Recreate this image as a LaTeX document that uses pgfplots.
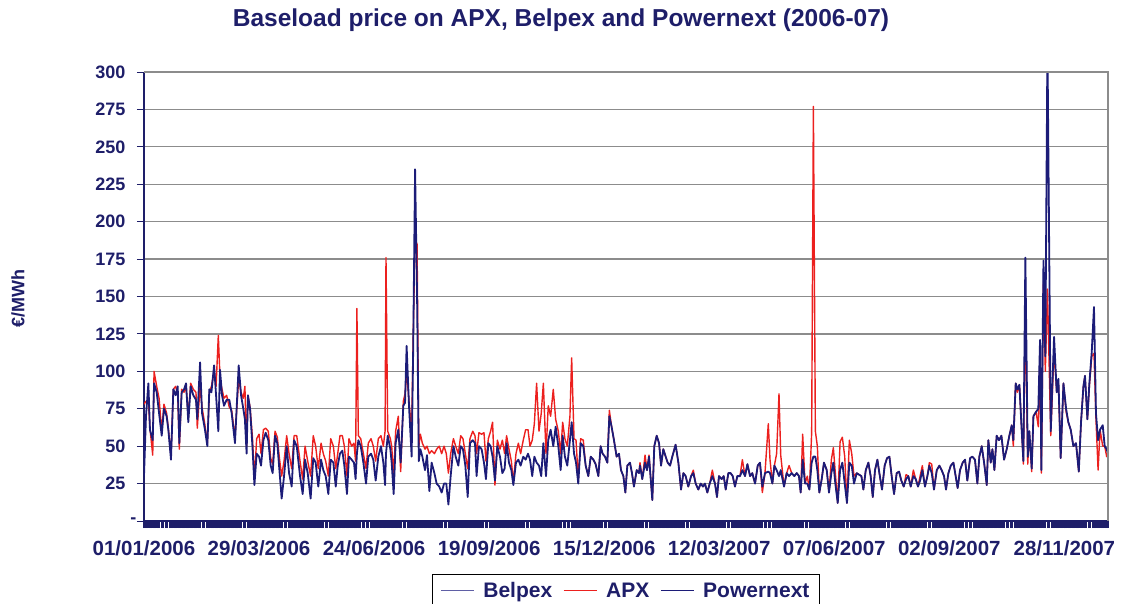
\documentclass[border=0pt]{standalone}
\usepackage{fontspec}
\setmainfont{Liberation Sans}
\usepackage{pgfplots}
\pgfplotsset{compat=1.18}
\usepackage{pgfplotstable}
\definecolor{navytext}{RGB}{30,30,105}
\definecolor{pnline}{RGB}{28,28,120}
\definecolor{apxline}{RGB}{236,32,30}
\definecolor{belline}{RGB}{95,95,165}
\definecolor{gridgray}{RGB}{140,140,140}

\pgfplotstableread{
d pn apx
0 30 78
1.5 70 80
3.3 92 80
4.5 61 62
6.6 54 44
7.6 92 100
9.6 86 90
11.4 72 82
13.4 57 60
15.1 75 78
17.1 70 72
18.4 61 62
20.4 41 44
22.2 88 88
24 84 90
25.5 90 84
26.7 52 48
28.5 86 88
30.3 88 86
31.8 92 90
33.5 66 70
35.3 90 92
37.3 84 88
39.3 81 86
40.3 68 62
42.4 106 90
43.9 72 76
46.1 61 64
47.9 50 52
49.4 88 86
51 86 90
53 104 100
54.5 84 90
56.2 60 124
57.5 101 95
59 84 88
60.5 77 82
62.5 81 84
64.5 81 76
66.3 72 74
68.8 52 56
71.6 104 95
73.4 84 86
75.1 75 82
76.3 68 90
77.6 45 50
78.6 84 84
80.2 75 76
82 50 56
83.5 24 28
85.2 45 55
87 43 58
88.5 37 45
90.3 54 61
92 59 62
94 54 60
95.8 37 42
97.3 32 38
99.1 57 60
100.8 52 56
102.4 34 42
104.1 15 30
105.9 30 40
107.9 50 57
109.7 32 45
111.7 23 35
113.5 54 57
115.5 50 57
118 30 40
120 18 28
121.8 41 50
123.8 32 40
126 15 30
128 42 57
129.8 39 50
131.8 23 35
133.9 41 52
135.6 34 45
137.4 30 40
139.4 18 30
141.2 41 55
143.2 39 50
145 23 35
146.5 37 45
148.2 45 57
150 47 57
151.5 37 50
153.5 18 30
155 43 55
157 41 50
158.8 39 52
160 28 40
161 45 142
162.1 54 57
163.9 50 55
165.9 39 45
167.9 25 35
169.6 43 52
171.7 45 55
173.4 41 50
175.2 27 40
177.2 43 55
179.2 50 57
181 39 50
182.3 24 60
183 45 176
184.3 57 60
186.3 48 55
187.3 39 50
188.8 18 30
190.3 52 60
192.3 61 70
194.1 39 33
196.1 77 80
197.4 79 85
198.6 117 100
200.4 77 80
202.4 43 60
203.5 110 120
205 235 188
206.5 150 185
207.8 40 50
209 48 58
210.5 43 52
212.5 34 48
214 44 50
215.8 20 45
217.5 39 47
219.6 32 45
221.3 25 48
223.3 23 50
225.1 19 45
226.9 25 50
228.6 25 45
230.2 11 32
231.9 30 45
234 50 55
235.7 43 50
237.7 37 45
239.5 50 57
241.2 48 55
243 37 45
244.8 16 35
246.5 52 55
248.6 54 60
250.3 52 57
251.5 30 45
253.3 50 59
255.3 48 58
257.1 39 59
258.6 28 40
260.4 52 55
262.1 50 60
263.6 43 66
265.4 27 24
267.2 50 54
269.2 43 48
271 32 54
272.7 35 45
274.2 52 57
276 39 48
277.8 34 40
279.3 24 26
281.3 39 45
283.1 41 52
284.8 37 45
286.8 43 54
288.6 41 61
290.4 45 61
291.9 41 50
293.6 30 54
295.2 43 65
296.9 39 92
298.7 37 60
300.4 30 72
302 52 92
304 30 45
305.7 54 77
307.5 61 70
309.5 50 88
311.3 63 68
313.3 50 60
315.1 34 45
316.6 57 66
318.3 43 55
320.1 37 50
322.1 54 70
323.4 66 109
325.2 45 55
326.7 39 54
328.4 25 28
330.2 52 55
332.2 50 54
334 37 37
336 30 30
337.8 43 43
339.8 41 41
341.5 38 38
343.6 30 30
345.3 50 50
346.8 45 45
348.6 43 43
350.4 39 39
351.9 70 74
353.6 63 63
355.4 54 54
357.4 43 43
359.2 45 45
360.7 34 34
362.5 30 30
364 19 19
365.5 37 37
367.5 39 39
369 32 32
370.5 23 23
372.6 34 34
374.3 32 32
375.1 37 39
376.8 28 28
378.9 39 44
380.4 34 34
381.9 43 44
383.2 28 28
384.4 14 14
385.9 50 50
387.7 57 57
389.5 52 52
391 37 37
392.7 48 48
394.5 43 43
396 39 39
397.8 37 37
399.5 43 43
402 51 51
404.1 39 39
406.1 21 21
407.9 32 32
409.6 30 30
411.6 23 23
413.7 30 30
415.4 32 34
417.2 25 25
419.2 21 21
421 25 25
422.7 23 23
424.2 25 25
426 19 19
427.8 25 25
429.8 30 34
431.8 25 25
433.3 16 16
434.8 30 30
436.8 28 28
438.4 30 30
439.9 21 21
441.9 32 32
443.6 32 32
445.2 30 30
446.9 23 23
448.7 30 30
450.7 30 30
452.5 34 41
454.5 30 30
456.3 38 38
458.3 30 30
460 32 32
462.1 25 25
464.1 37 37
465.8 39 39
467.6 23 19
469.6 32 32
472.1 33 65
473.4 32 41
475.2 25 25
476.7 37 37
478.4 34 45
480.2 30 85
481.5 34 44
484 23 23
486 32 32
487.8 30 37
489.8 32 32
491.8 30 30
493.6 32 32
495.3 30 30
496.6 19 19
498.1 41 58
499.9 25 25
501.6 25 30
503.2 21 21
504.9 39 59
506.2 43 277
507.7 43 60
509.2 34 50
510.7 19 19
512.5 28 28
514.2 39 39
516.3 34 34
518 19 19
519.8 32 41
521.3 39 49
522.8 25 32
524.6 12 12
526.4 34 53
528.1 39 56
529.9 25 43
531.6 12 12
533.4 39 54
535.2 37 45
536.9 25 30
539 32 32
540.7 31 31
542.5 30 30
544 21 21
545.8 34 34
547.8 39 39
549.5 30 30
551.1 16 16
552.8 34 34
554.6 41 41
556.1 32 32
558.1 21 21
560.1 37 37
561.9 42 42
563.7 43 43
565.4 30 30
567.2 18 18
569.2 32 32
571 33 33
572.7 27 27
574.5 23 23
576.3 28 31
578 30 30
579.8 23 23
581.8 30 34
583.6 28 28
585.3 23 23
586.9 27 30
588.6 34 37
590.6 23 23
592.4 30 30
593.9 37 39
595.7 32 38
597.4 21 21
599.5 34 34
601.5 37 37
603.2 34 34
605 30 30
606.5 21 21
608.3 32 32
610.1 37 37
612.1 39 39
613.8 30 30
615.3 22 22
617.1 34 34
619.1 39 39
620.9 41 41
622.6 27 27
624.7 42 42
626.4 43 43
628.4 41 41
630.2 25 25
631.7 43 43
633.5 50 50
635.3 39 39
637.3 24 24
638.5 54 54
640.3 39 39
641.6 48 48
643.1 34 34
644.8 57 57
646.6 54 54
648.4 57 57
650.4 41 41
652.4 48 48
654.4 57 57
656.2 64 64
657.4 54 50
659.2 92 92
660.5 88 86
662 91 91
663.7 61 61
665 40 38
666.5 176 140
668.3 43 38
669.5 60 60
671.3 35 33
672.6 70 70
674.6 73 73
676.3 75 63
677.6 121 110
678.6 34 32
680.2 174 160
681.6 110 100
683.2 320 155
685.7 60 57
688.2 123 115
690.2 86 86
691.5 95 92
693.2 42 42
695.3 92 92
697.3 75 73
699 66 66
700.8 61 61
702.8 50 50
704.8 52 52
706.9 33 33
708.6 66 66
710.4 90 90
711.6 97 97
713.4 68 68
714.9 92 90
716.7 113 110
718.4 143 112
719.9 72 68
721.5 54 34
723 61 61
725 64 50
726.5 50 50
728 48 43
729 45 45
}\prices

\begin{document}
\begin{tikzpicture}[x=1pt,y=1pt]
\path[use as bounding box] (0,0) rectangle (1121,603);
\begin{axis}[
  name=ax,
  at={(144pt,82pt)}, anchor=south west,
  scale only axis, width=964pt, height=449pt,
  xmin=0, xmax=729, ymin=0, ymax=300,
  axis x line*=bottom, axis y line*=left,
  axis line style={navytext, line width=2.2pt},
  tick align=outside,
  xtick={0,87,...,696},
  xticklabels={01/01/2006,29/03/2006,24/06/2006,19/09/2006,15/12/2006,12/03/2007,07/06/2007,02/09/2007,28/11/2007},
  minor xtick={0,1,...,729},
  ytick={0,25,...,300},
  yticklabels={{\rlap{\hspace{5pt}-}},25,50,75,100,125,150,175,200,225,250,275,300},
  major tick length=7pt, minor tick length=7pt,
  tick style={navytext, line width=0.9pt},
  minor tick style={navytext, line width=1.25pt},
  ymajorgrids=true,
  grid style={gridgray, line width=1.2pt},
  xticklabel style={font=\fontsize{20.5}{24}\selectfont\bfseries, text=navytext, yshift=-9pt},
  yticklabel style={font=\fontsize{18}{22}\selectfont\bfseries, text=navytext, xshift=-8pt},
  every axis plot/.append style={line join=round},
  legend columns=3,
  legend style={at={(0.5,-0.118)}, anchor=north, draw=black, line width=0.6pt,
    font=\fontsize{21}{24}\selectfont\bfseries, text=navytext,
    inner xsep=8pt, inner ysep=6pt,
    /tikz/every odd column/.append style={column sep=7pt},
    /tikz/every even column/.append style={column sep=9pt}},
]
\addplot[belline, line width=0.8pt, restrict x to domain=324:729,
  legend image code/.code={\draw[belline, line width=0.8pt] (0pt,0pt) -- (33pt,0pt);}] table[x=d, y=pn] {\prices};
\addlegendentry{Belpex}
\addplot[apxline, line width=1.4pt,
  legend image code/.code={\draw[apxline, line width=0.9pt] (0pt,0pt) -- (33pt,0pt);}] table[x=d, y=apx] {\prices};
\addlegendentry{APX}
\addplot[pnline, line width=1.8pt,
  legend image code/.code={\draw[pnline, line width=0.9pt] (0pt,0pt) -- (33pt,0pt);}] table[x=d, y=pn] {\prices};
\addlegendentry{Powernext}
\end{axis}
\draw[gridgray, line width=1.6pt] (ax.north west) -- (ax.north east) -- (ax.south east);
\node[text=navytext, font=\fontsize{24.5}{28}\selectfont\bfseries] at (561,583) {Baseload price on APX, Belpex and Powernext (2006-07)};
\node[text=navytext, font=\fontsize{18}{22}\selectfont\bfseries, rotate=90] at (18,304) {€/MWh};
\end{tikzpicture}
\end{document}
